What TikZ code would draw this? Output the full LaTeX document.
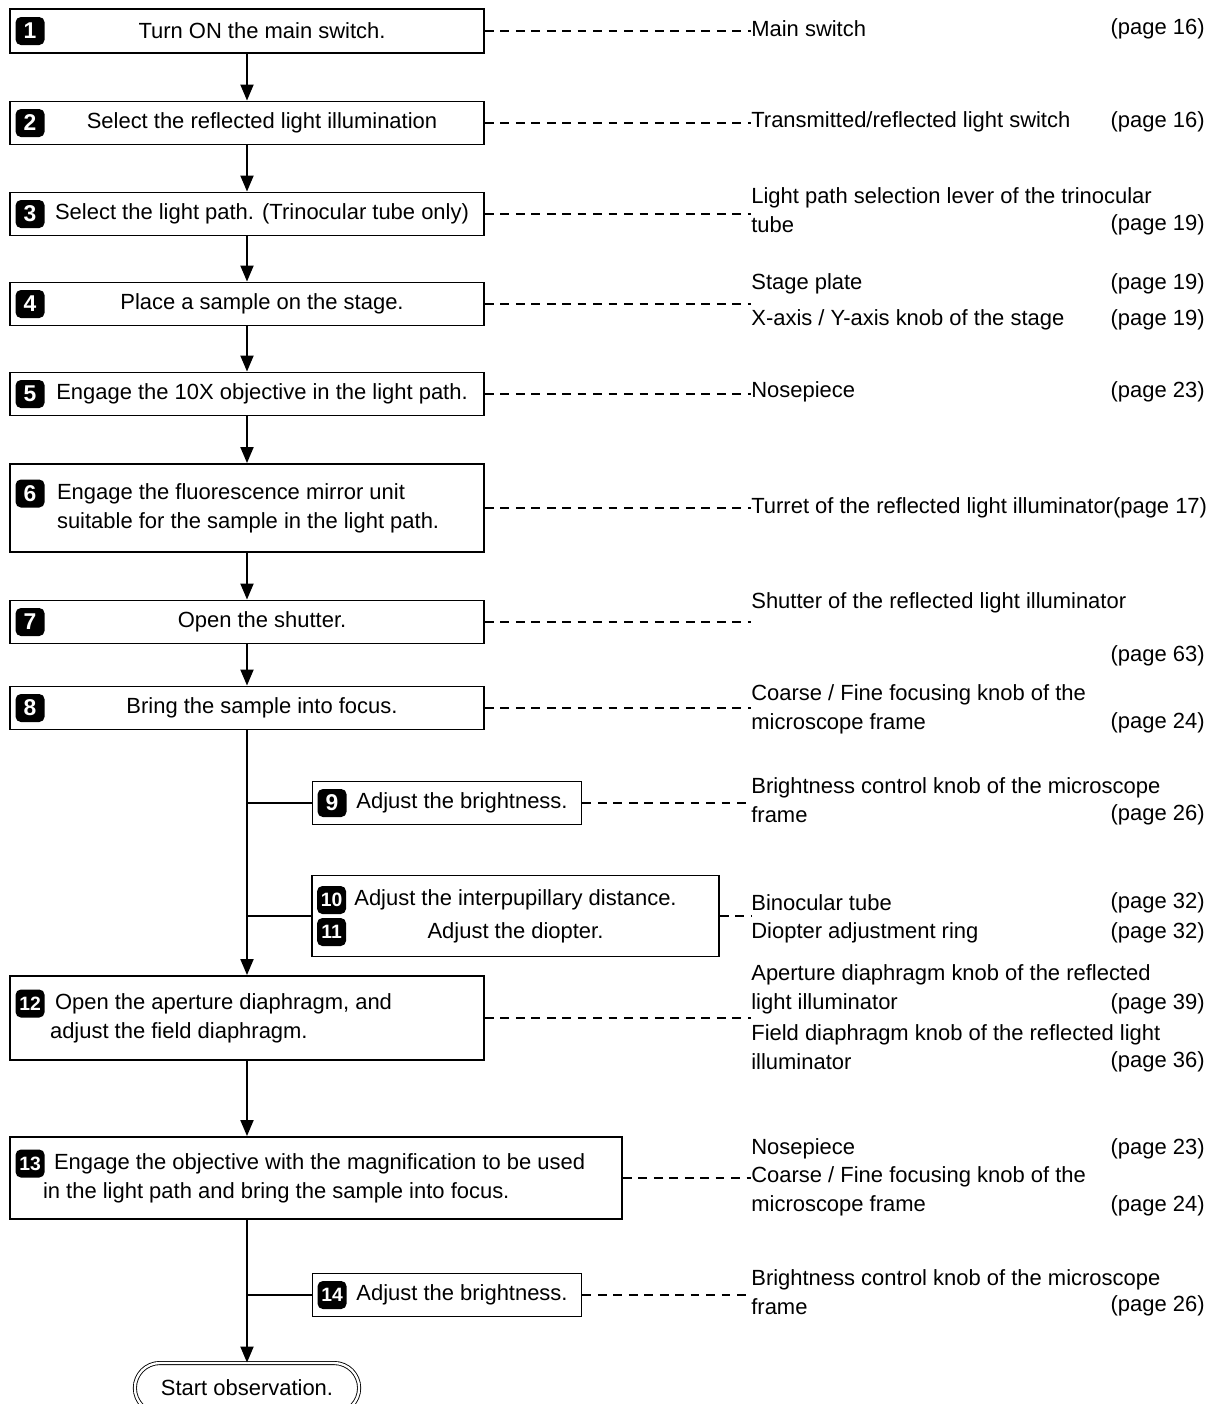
\documentclass[tikz,border=0pt]{standalone}
\usepackage{fontspec}
\setmainfont{Liberation Sans}
\usetikzlibrary{arrows.meta,positioning,calc,shapes.misc}

% text of a step box, shifted right of the number badge
\newcommand\steptext[2][8.7cm]{\hspace*{0.6cm}\makebox[#1]{#2}}
\newcommand\steppar[2]{\hspace*{0.6cm}\parbox{#1}{#2}}

\begin{document}
\begin{tikzpicture}[x=0.02cm, y=-0.02cm, font=\fontsize{12.5}{16.5}\selectfont,
  stepbox/.style={draw, line width=1.1pt, minimum width=9.48cm, minimum height=0.86cm, inner sep=0pt},
  subbox/.style={stepbox, minimum width=5.38cm},
  badge/.style={fill=black, text=white, rounded corners=3pt, minimum width=0.58cm, minimum height=0.56cm, inner sep=0pt, font=\fontsize{13}{13}\selectfont\bfseries},
  twobadge/.style={badge, font=\fontsize{11}{11}\selectfont\bfseries},
  flow/.style={line width=1.1pt, -{Triangle[length=0.32cm,width=0.26cm]}},
  branch/.style={line width=1.1pt},
  link/.style={line width=1pt, dash pattern=on 5pt off 3.8pt},
  note/.style={anchor=west, align=left, inner sep=0pt},
  page/.style={anchor=east, inner sep=0pt}]
\useasboundingbox (0,0) rectangle (1220,1404);
\clip (0,0) rectangle (1220,1404);

% main steps
\node[stepbox, minimum height=0.88cm] (s1) at (247,31) {\steptext{Turn ON the main switch.}};
\node[stepbox] (s2) at (247,123) {\steptext{Select the reflected light illumination}};
\node[stepbox] (s3) at (247,214) {\steptext{Select the light path. (Trinocular tube only)}};
\node[stepbox] (s4) at (247,304) {\steptext{Place a sample on the stage.}};
\node[stepbox] (s5) at (247,394) {\steptext{Engage the 10X objective in the light path.}};
\node[stepbox, minimum height=1.76cm] (s6) at (247,508) {\steppar{8.2cm}{Engage the fluorescence mirror unit\\suitable for the sample in the light path.}};
\node[stepbox] (s7) at (247,622) {\steptext{Open the shutter.}};
\node[stepbox] (s8) at (247,708) {\steptext{Bring the sample into focus.}};
\node[subbox] (s9) at (447,803) {\steptext[4.6cm]{Adjust the brightness.}};
\node[stepbox, minimum width=8.14cm, minimum height=1.62cm] (s10) at (515.5,916) {\parbox{7.9cm}{\centering Adjust the interpupillary distance.\\[2.3pt]Adjust the diopter.}};
\node[stepbox, minimum height=1.68cm] (s12) at (247,1018) {\steppar{8.48cm}{\hspace*{0.1cm}Open the aperture diaphragm, and\\adjust the field diaphragm.}};
\node[stepbox, minimum width=12.24cm, minimum height=1.64cm] (s13) at (316,1178) {\steppar{11.52cm}{\hspace*{0.22cm}Engage the objective with the magnification to be used\\in the light path and bring the sample into focus.}};
\node[subbox] (s14) at (447,1295) {\steptext[4.6cm]{Adjust the brightness.}};
\node[draw, rounded rectangle, double, double distance=1.3pt, line width=0.5pt, minimum width=4.72cm, minimum height=1cm] (start) at (247,1388) {Start observation.};

% number badges
\foreach \n in {1,2,3,4,5,7,8}
  \node[badge] (b\n) at ([xshift=0.42cm]s\n.west) {\n};
\node[badge] (b6) at ([xshift=0.42cm,yshift=0.29cm]s6.west) {6};
\foreach \n in {12,13}
  \node[twobadge] (b\n) at ([xshift=0.42cm,yshift=0.29cm]s\n.west) {\n};
\node[badge] (b9) at ([xshift=0.41cm]s9.west) {9};
\node[twobadge] (b10) at ([xshift=0.41cm,yshift=0.32cm]s10.west) {10};
\node[twobadge] (b11) at ([xshift=0.41cm,yshift=-0.32cm]s10.west) {11};
\node[twobadge] (b14) at ([xshift=0.41cm]s14.west) {14};

% flow
\foreach \a/\b in {s1/s2,s2/s3,s3/s4,s4/s5,s5/s6,s6/s7,s7/s8,s8/s12}
  \draw[flow] (\a) -- (\b);
\draw[flow] (s12.south) -- (s12.south |- s13.north);
\draw[flow] (s13.south -| start.north) -- (start.north);
\draw[branch] (s9.west) -- (s9.west -| s8.south);
\draw[branch] (s10.west) -- (s10.west -| s8.south);
\draw[branch] (s14.west) -- (s14.west -| start.north);

% parts and pages
\node[note] (n1) at (751,29) {Main switch};
\node[page] (p1) at (1205,29) {(page 16)};
\node[note] (n2) at (751,122) {Transmitted/reflected light switch};
\node[page] (p2) at (1205,122) {(page 16)};
\node[note] (n3) at (751,210) {Light path selection lever of the trinocular\\tube};
\node[page] (p3) at (1205,225) {(page 19)};
\node[note] (n4a) at (751,284) {Stage plate};
\node[page] (p4a) at (1205,284) {(page 19)};
\node[note] (n4b) at (751,320) {X-axis / Y-axis knob of the stage};
\node[page] (p4b) at (1205,320) {(page 19)};
\node[note] (n5) at (751,392) {Nosepiece};
\node[page] (p5) at (1205,392) {(page 23)};
\node[note] (n6) at (751,508) {Turret of the reflected light illuminator(page 17)};
\node[note] (n7) at (751,603) {Shutter of the reflected light illuminator};
\node[page] (p7) at (1205,656) {(page 63)};
\node[note] (n8) at (751,709) {Coarse / Fine focusing knob of the\\microscope frame};
\node[page] (p8) at (1205,723) {(page 24)};
\node[note] (n9) at (751,800) {Brightness control knob of the microscope\\frame};
\node[page] (p9) at (1205,815) {(page 26)};
\node[note] (n10a) at (751,903) {Binocular tube};
\node[page] (p10a) at (1205,903) {(page 32)};
\node[note] (n10b) at (751,933) {Diopter adjustment ring};
\node[page] (p10b) at (1205,933) {(page 32)};
\node[note] (n12a) at (751,989) {Aperture diaphragm knob of the reflected\\light illuminator};
\node[page] (p12a) at (1205,1004) {(page 39)};
\node[note] (n12b) at (751,1047) {Field diaphragm knob of the reflected light\\illuminator};
\node[page] (p12b) at (1205,1062) {(page 36)};
\node[note] (n13a) at (751,1149) {Nosepiece};
\node[page] (p13a) at (1205,1149) {(page 23)};
\node[note] (n13b) at (751,1191) {Coarse / Fine focusing knob of the\\microscope frame};
\node[page] (p13b) at (1205,1206) {(page 24)};
\node[note] (n14) at (751,1292) {Brightness control knob of the microscope\\frame};
\node[page] (p14) at (1205,1306) {(page 26)};

% dashed leaders
\foreach \s/\n in {s1/n1,s2/n2,s3/n3,s4/n4a,s5/n5,s6/n6,s7/n7,s8/n8,s9/n9,s10/n10a,s12/n12a,s13/n13b,s14/n14}
  \draw[link] (\s.east) -- (\s.east -| \n.west);
\end{tikzpicture}
\end{document}
